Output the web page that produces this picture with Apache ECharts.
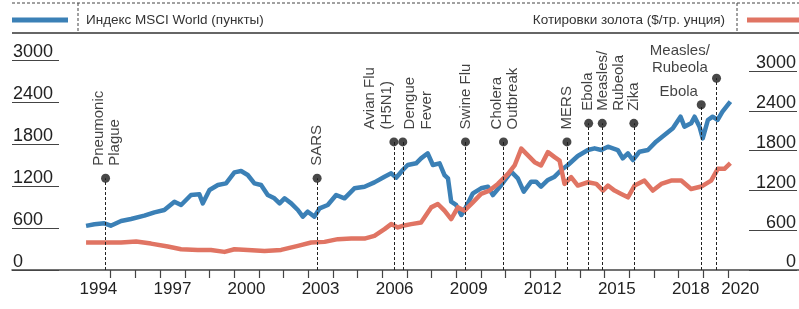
<!DOCTYPE html>
<html>
<head>
<meta charset="utf-8">
<script src="https://cdn.jsdelivr.net/npm/echarts@6/dist/echarts.min.js"></script>
<style>
  html, body { margin: 0; padding: 0; background: #fff; }
  #chart { width: 799px; height: 309px; }
</style>
</head>
<body>
<div id="chart"></div>
<script>
  const FONT = '"Liberation Sans", Arial, sans-serif';

  const msciName = 'Индекс MSCI World (пункты)';
  const goldName = 'Котировки золота ($/тр. унция)';

  // MSCI World, points (left scale)
  const msciDates = [
    1994.0, 1994.34, 1994.74, 1995.0, 1995.42, 1995.82, 1996.36, 1996.77, 1997.17, 1997.58,
    1997.85, 1998.25, 1998.59, 1998.73, 1999.0, 1999.34, 1999.67, 2000.01, 2000.28, 2000.55,
    2000.82, 2001.09, 2001.36, 2001.63, 2001.84, 2002.04, 2002.31, 2002.58, 2002.78, 2002.98,
    2003.25, 2003.46, 2003.79, 2004.13, 2004.47, 2004.87, 2005.28, 2005.68, 2006.09, 2006.36,
    2006.56, 2006.83, 2007.03, 2007.37, 2007.57, 2007.84, 2008.05, 2008.32, 2008.52, 2008.66,
    2008.79, 2008.99, 2009.2, 2009.4, 2009.67, 2010.0, 2010.28, 2010.48, 2010.82, 2011.22,
    2011.49, 2011.73, 2012.03, 2012.23, 2012.43, 2012.71, 2012.98, 2013.25, 2013.52, 2013.92,
    2014.33, 2014.6, 2014.87, 2015.14, 2015.34, 2015.54, 2015.74, 2015.95, 2016.15, 2016.42,
    2016.76, 2017.09, 2017.43, 2017.77, 2018.08, 2018.24, 2018.51, 2018.65, 2018.85, 2018.98,
    2019.19, 2019.38, 2019.58, 2019.78, 2020.1
  ];
  const msciValues = [
    630, 653, 667, 633, 700, 729, 776, 824, 857, 976,
    929, 1071, 1081, 952, 1143, 1214, 1238, 1395, 1414, 1357,
    1238, 1214, 1071, 1024, 952, 1024, 952, 857, 762, 833,
    762, 881, 929, 1071, 1024, 1167, 1190, 1252, 1333, 1381,
    1319, 1429, 1500, 1524, 1595, 1667, 1500, 1524, 1357, 1310,
    976, 929, 786, 905, 1095, 1167, 1190, 1071, 1214, 1405,
    1310, 1119, 1262, 1262, 1190, 1286, 1333, 1429, 1500, 1629,
    1714, 1738, 1714, 1762, 1738, 1714, 1595, 1667, 1571, 1690,
    1714, 1833, 1929, 2024, 2190, 2048, 2095, 2190, 2048, 1881,
    2143, 2190, 2143, 2262, 2405
  ];

  // Gold, $ per troy ounce (right scale)
  const goldDates = [
    1994.0, 1994.74, 1995.42, 1996.03, 1996.63, 1997.31, 1997.85, 1998.53, 1999.06, 1999.61,
    2000.01, 2000.55, 2001.23, 2001.9, 2002.58, 2003.12, 2003.66, 2004.2, 2004.74, 2005.28,
    2005.68, 2006.09, 2006.36, 2006.63, 2006.83, 2007.17, 2007.57, 2007.98, 2008.25, 2008.52,
    2008.79, 2009.06, 2009.33, 2009.67, 2010.0, 2010.34, 2010.68, 2011.09, 2011.36, 2011.63,
    2011.9, 2012.17, 2012.43, 2012.71, 2012.98, 2013.18, 2013.38, 2013.65, 2013.92, 2014.33,
    2014.67, 2014.94, 2015.14, 2015.41, 2015.68, 2015.95, 2016.22, 2016.62, 2016.96, 2017.3,
    2017.7, 2018.11, 2018.51, 2018.92, 2019.32, 2019.59, 2019.86, 2020.1
  ];
  const goldValues = [
    414, 414, 414, 429, 398, 353, 313, 303, 303, 273,
    313, 303, 288, 303, 364, 414, 424, 465, 474, 474,
    515, 616, 692, 641, 667, 692, 717, 944, 995, 894,
    768, 944, 894, 1020, 1147, 1197, 1298, 1450, 1576, 1829,
    1727, 1626, 1576, 1777, 1702, 1650, 1298, 1399, 1273, 1323,
    1298, 1197, 1273, 1197, 1147, 1096, 1273, 1348, 1197, 1298,
    1348, 1348, 1222, 1258, 1348, 1526, 1526, 1611
  ];

  const tickYears = [
    1995, 1996, 1997, 1998, 1999, 2000, 2001, 2002, 2003, 2004, 2005, 2006, 2007,
    2008, 2009, 2010, 2011, 2012, 2013, 2014, 2015, 2016, 2017, 2018, 2019, 2020
  ];
  const labelYears = [1994, 1997, 2000, 2003, 2006, 2009, 2012, 2015, 2018, 2020];

  const eventNames = [
    'Pneumonic\nPlague', 'SARS', 'Avian Flu\n(H5N1)', 'Dengue\nFever', 'Swine Flu',
    'Cholera\nOutbreak', 'MERS', 'Ebola', 'Measles/\nRubeola', 'Zika', 'Ebola', 'Measles/\nRubeola'
  ];
  const eventDates = [1994.79, 2003.36, 2006.47, 2006.83, 2009.37, 2010.91, 2013.48, 2014.36, 2014.91, 2016.19, 2018.92, 2019.54];
  const eventLevels = [1310, 1310, 1830, 1830, 1830, 1830, 1830, 2095, 2095, 2095, 2360, 2740];

  // label placement for each event: rotated column shift, or horizontal offset
  const eventLabelLayout = [
    {rotate: 90, dx: 1.5}, {rotate: 90, dx: 0}, {rotate: 90, dx: -15.5}, {rotate: 90, dx: 15.5},
    {rotate: 90, dx: 0}, {rotate: 90, dx: 1.5}, {rotate: 90, dx: 0}, {rotate: 90, dx: -1},
    {rotate: 90, dx: 8.5}, {rotate: 90, dx: 0},
    {rotate: 0, dx: -22.5, dy: -13.3}, {rotate: 0, dx: -36.7, dy: -18.8}
  ];

  const BLUE = '#3b80b6';
  const RED = '#e07463';
  const X_MIN = 1991;
  const X_MAX = 2022.88;
  const DOT = 9;

  const chart = echarts.init(document.getElementById('chart'));

  const eventData = eventNames.map((name, i) => {
    const lay = eventLabelLayout[i];
    const label = lay.rotate
      ? {rotate: 90, position: [DOT / 2 + lay.dx, -8], align: 'left', verticalAlign: 'middle'}
      : {rotate: 0, position: [DOT / 2 + lay.dx, DOT / 2 + lay.dy], align: 'center', verticalAlign: 'middle'};
    return {name: name, value: [eventDates[i], eventLevels[i]], label: label};
  });

  const hiddenX = (gridIndex) => ({
    type: 'value', gridIndex: gridIndex, min: X_MIN, max: X_MAX, show: false
  });
  const hiddenY = (gridIndex) => ({
    type: 'value', gridIndex: gridIndex, min: 0, max: 3000, show: false
  });
  const labelY = (gridIndex, side) => ({
    type: 'value',
    gridIndex: gridIndex,
    position: side,
    min: 0,
    max: 3000,
    interval: 600,
    axisLine: {show: false},
    axisTick: {show: false},
    splitLine: {show: true, lineStyle: {color: '#444', width: 1.2}},
    axisLabel: {
      inside: true,
      margin: 1,
      align: side,
      verticalAlign: 'bottom',
      formatter: v => String(v),
      color: '#222',
      fontFamily: FONT,
      fontSize: 18,
      lineHeight: 15
    }
  });

  const option = {
    animation: false,
    backgroundColor: '#fff',
    textStyle: {fontFamily: FONT},
    legend: [
      {
        data: [msciName],
        left: 12,
        top: 13,
        padding: 0,
        icon: 'rect',
        itemWidth: 56,
        itemHeight: 5,
        selectedMode: false,
        textStyle: {color: '#333', fontSize: 13.5, fontFamily: FONT, padding: [0, 0, 0, 13]}
      },
      {
        data: [goldName],
        right: 0,
        top: 13,
        padding: 0,
        align: 'right',
        icon: 'rect',
        itemWidth: 52,
        itemHeight: 5,
        selectedMode: false,
        textStyle: {color: '#333', fontSize: 13.5, fontFamily: FONT, padding: [0, 17, 0, 0]}
      }
    ],
    graphic: [
      {type: 'line', shape: {x1: 12, y1: 3, x2: 799, y2: 3}, style: {stroke: '#444', lineWidth: 1, lineDash: [3, 2]}},
      {type: 'line', shape: {x1: 12, y1: 33, x2: 799, y2: 33}, style: {stroke: '#333', lineWidth: 1.5}},
      {type: 'line', shape: {x1: 78, y1: 3, x2: 78, y2: 33}, style: {stroke: '#444', lineWidth: 1, lineDash: [3, 2]}},
      {type: 'line', shape: {x1: 737, y1: 3, x2: 737, y2: 33}, style: {stroke: '#444', lineWidth: 1, lineDash: [3, 2]}}
    ],
    grid: [
      {left: 12, right: 0, top: 60, bottom: 39},
      {left: 12, right: 0, top: 71, bottom: 39},
      {left: 12, width: 47, top: 60, bottom: 39},
      {right: 0, width: 50, top: 71, bottom: 39}
    ],
    xAxis: [
      {
        type: 'value',
        gridIndex: 0,
        min: X_MIN,
        max: X_MAX,
        splitLine: {show: false},
        axisLine: {show: true, lineStyle: {color: '#444', width: 1.5}},
        axisTick: {
          show: true,
          customValues: tickYears,
          length: 8,
          lineStyle: {color: '#444', width: 1.2}
        },
        axisLabel: {
          customValues: labelYears.map(y => y + 0.5),
          formatter: v => String(Math.floor(v)),
          color: '#222',
          fontFamily: FONT,
          fontSize: 17,
          lineHeight: 17,
          margin: 11
        }
      },
      hiddenX(1),
      hiddenX(2),
      hiddenX(3)
    ],
    yAxis: [
      hiddenY(0),
      hiddenY(1),
      labelY(2, 'left'),
      labelY(3, 'right')
    ],
    series: [
      {
        name: msciName,
        type: 'line',
        xAxisIndex: 0,
        yAxisIndex: 0,
        color: BLUE,
        showSymbol: false,
        lineStyle: {width: 4.5, color: BLUE, join: 'round'},
        data: msciDates.map((d, i) => [d, msciValues[i]]),
        z: 3
      },
      {
        name: goldName,
        type: 'line',
        xAxisIndex: 1,
        yAxisIndex: 1,
        color: RED,
        showSymbol: false,
        lineStyle: {width: 4.5, color: RED, join: 'round'},
        data: goldDates.map((d, i) => [d, goldValues[i]]),
        z: 4
      },
      {
        name: 'events',
        type: 'scatter',
        xAxisIndex: 0,
        yAxisIndex: 0,
        symbol: 'circle',
        symbolSize: DOT,
        itemStyle: {color: '#1a1a1a'},
        label: {
          show: true,
          formatter: p => p.name,
          color: '#111',
          fontFamily: FONT,
          fontSize: 15,
          lineHeight: 16.5
        },
        markLine: {
          silent: true,
          symbol: ['none', 'none'],
          label: {show: false},
          lineStyle: {color: '#222', width: 1, type: [3, 2]},
          data: eventDates.map((d, i) => [{coord: [d, 0]}, {coord: [d, eventLevels[i]]}])
        },
        data: eventData,
        z: 5
      }
    ]
  };

  chart.setOption(option);
  window.addEventListener('resize', function () {
    chart.resize();
  });
</script>
</body>
</html>
